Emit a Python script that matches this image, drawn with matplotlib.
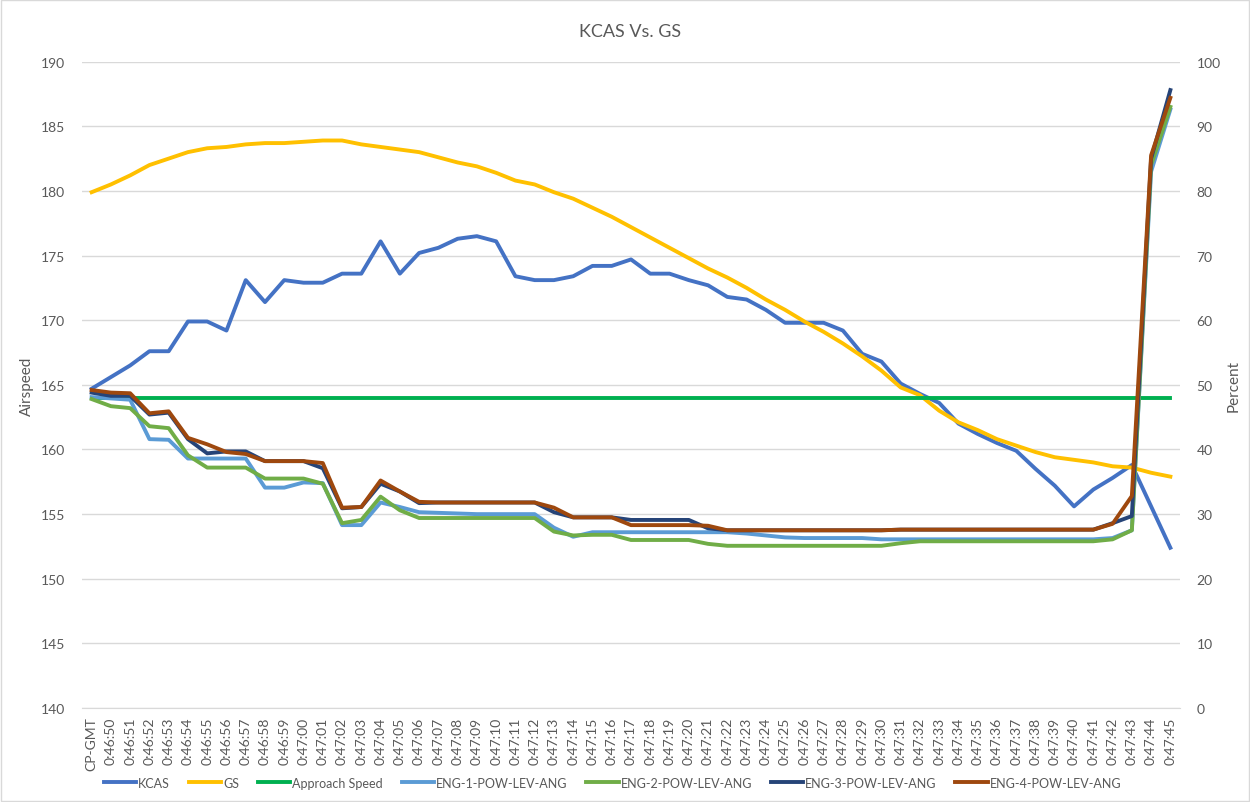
import matplotlib
matplotlib.use('Agg')
import matplotlib.pyplot as plt
from matplotlib.patches import Rectangle

plt.rcParams['font.family'] = ['Lato', 'DejaVu Sans']

# Метки оси X
times = ['CP-GMT'] + ['0:46:%02d' % s for s in range(50, 60)] + ['0:47:%02d' % s for s in range(0, 46)]

# Скорости (левая ось)
kcas = [164.7, 165.6, 166.5, 167.6, 167.6, 169.9, 169.9, 169.2, 173.1, 171.4,
        173.1, 172.9, 172.9, 173.6, 173.6, 176.1, 173.6, 175.2, 175.6, 176.3,
        176.5, 176.1, 173.4, 173.1, 173.1, 173.4, 174.2, 174.2, 174.7, 173.6,
        173.6, 173.1, 172.7, 171.8, 171.6, 170.8, 169.8, 169.8, 169.8, 169.2,
        167.4, 166.8, 165.1, 164.3, 163.6, 162.0, 161.2, 160.5, 159.9, 158.5,
        157.2, 155.6, 156.9, 157.8, 158.8, 155.6, 152.4]
gs = [179.9, 180.5, 181.2, 182.0, 182.5, 183.0, 183.3, 183.4, 183.6, 183.7,
      183.7, 183.8, 183.9, 183.9, 183.6, 183.4, 183.2, 183.0, 182.6, 182.2,
      181.9, 181.4, 180.8, 180.5, 179.9, 179.4, 178.7, 178.0, 177.2, 176.4,
      175.6, 174.8, 174.0, 173.3, 172.5, 171.6, 170.8, 169.9, 169.1, 168.2,
      167.2, 166.1, 164.8, 164.2, 163.0, 162.1, 161.5, 160.8, 160.3, 159.8,
      159.4, 159.2, 159.0, 158.7, 158.6, 158.2, 157.9]
approach = [164.0] * len(times)

# Положение РУД, % (правая ось)
eng1 = [48.1, 47.9, 47.7, 41.6, 41.5, 38.6, 38.6, 38.6, 38.6, 34.1,
        34.1, 34.9, 34.8, 28.3, 28.3, 31.8, 31.1, 30.3, 30.2, 30.1,
        30.0, 30.0, 30.0, 30.0, 27.9, 26.5, 27.2, 27.2, 27.2, 27.2,
        27.2, 27.2, 27.2, 27.2, 27.0, 26.7, 26.4, 26.3, 26.3, 26.3,
        26.3, 26.1, 26.1, 26.1, 26.1, 26.1, 26.1, 26.1, 26.1, 26.1,
        26.1, 26.1, 26.1, 26.3, 27.5, 83.0, 92.6]
eng2 = [47.8, 46.7, 46.4, 43.6, 43.3, 39.1, 37.2, 37.2, 37.2, 35.5,
        35.5, 35.5, 34.7, 28.6, 29.1, 32.7, 30.6, 29.4, 29.4, 29.4,
        29.4, 29.4, 29.4, 29.4, 27.3, 26.7, 26.8, 26.8, 26.0, 26.0,
        26.0, 26.0, 25.4, 25.1, 25.1, 25.1, 25.1, 25.1, 25.1, 25.1,
        25.1, 25.1, 25.5, 25.8, 25.8, 25.8, 25.8, 25.8, 25.8, 25.8,
        25.8, 25.8, 25.8, 26.1, 27.5, 84.0, 93.0]
eng3 = [48.8, 48.3, 48.3, 45.4, 45.7, 41.6, 39.4, 39.7, 39.7, 38.2,
        38.2, 38.2, 37.1, 30.9, 31.1, 34.7, 33.5, 31.7, 31.8, 31.8,
        31.8, 31.8, 31.8, 31.8, 30.3, 29.5, 29.5, 29.5, 29.1, 29.1,
        29.1, 29.1, 27.8, 27.5, 27.5, 27.5, 27.5, 27.5, 27.5, 27.5,
        27.5, 27.5, 27.6, 27.6, 27.6, 27.6, 27.6, 27.6, 27.6, 27.6,
        27.6, 27.6, 27.6, 28.6, 29.7, 85.0, 95.6]
eng4 = [49.2, 48.8, 48.7, 45.6, 45.9, 41.8, 40.8, 39.6, 39.3, 38.2,
        38.2, 38.2, 37.9, 31.0, 31.1, 35.2, 33.5, 31.9, 31.8, 31.8,
        31.8, 31.8, 31.8, 31.8, 31.0, 29.5, 29.5, 29.5, 28.3, 28.3,
        28.3, 28.3, 28.2, 27.5, 27.5, 27.5, 27.5, 27.5, 27.5, 27.5,
        27.5, 27.5, 27.6, 27.6, 27.6, 27.6, 27.6, 27.6, 27.6, 27.6,
        27.6, 27.6, 27.6, 28.5, 32.8, 85.5, 94.4]

x = list(range(len(times)))
grey = '#595959'
lw = 2.8

fig = plt.figure(figsize=(12.5, 8.03), dpi=100)
ax = fig.add_axes([0.0656, 0.117, 0.8784, 0.805])
ax2 = ax.twinx()

l1, = ax.plot(x, kcas, color='#4472C4', lw=lw, label='KCAS')
l2, = ax.plot(x, gs, color='#FFC000', lw=lw, label='GS')
l3, = ax.plot(x, approach, color='#00B050', lw=lw, label='Approach Speed')
l4, = ax2.plot(x, eng1, color='#5B9BD5', lw=lw, label='ENG-1-POW-LEV-ANG')
l5, = ax2.plot(x, eng2, color='#70AD47', lw=lw, label='ENG-2-POW-LEV-ANG')
l6, = ax2.plot(x, eng3, color='#264478', lw=lw, label='ENG-3-POW-LEV-ANG')
l7, = ax2.plot(x, eng4, color='#9E480E', lw=lw, label='ENG-4-POW-LEV-ANG')

ax.set_xlim(-0.5, len(times) - 0.5)
ax.set_ylim(140, 190)
ax.set_yticks(range(140, 191, 5))
ax2.set_ylim(0, 100)
ax2.set_yticks(range(0, 101, 10))
ax.set_xticks(x)
ax.set_xticklabels(times, rotation=90)

ax.grid(axis='y', color='#D9D9D9', lw=1)
ax.set_axisbelow(True)
for a in (ax, ax2):
    for s in a.spines.values():
        s.set_visible(False)
    a.tick_params(length=0, colors=grey, labelsize=10)
ax.spines['bottom'].set_visible(True)
ax.spines['bottom'].set_color('#D9D9D9')
ax.tick_params(axis='y', pad=12)
ax2.tick_params(axis='y', pad=12)
ax.tick_params(axis='x', pad=6)

ax.set_ylabel('Airspeed', color=grey, fontsize=11, labelpad=5)
ax2.set_ylabel('Percent', color=grey, fontsize=11, labelpad=4)
fig.text(0.504, 0.96, 'KCAS Vs. GS', ha='center', va='center', color=grey, fontsize=13)

fig.legend(handles=[l1, l2, l3, l4, l5, l6, l7], loc='center', bbox_to_anchor=(0.49, 0.024),
           ncol=7, frameon=False, fontsize=9, handlelength=2.6, handletextpad=0.15,
           columnspacing=1.5, labelcolor=grey)

fig.patches.append(Rectangle((0.001, 0.001), 0.998, 0.998, transform=fig.transFigure,
                             fill=False, edgecolor='#D9D9D9', lw=1))

fig.savefig('out.png', dpi=100)
